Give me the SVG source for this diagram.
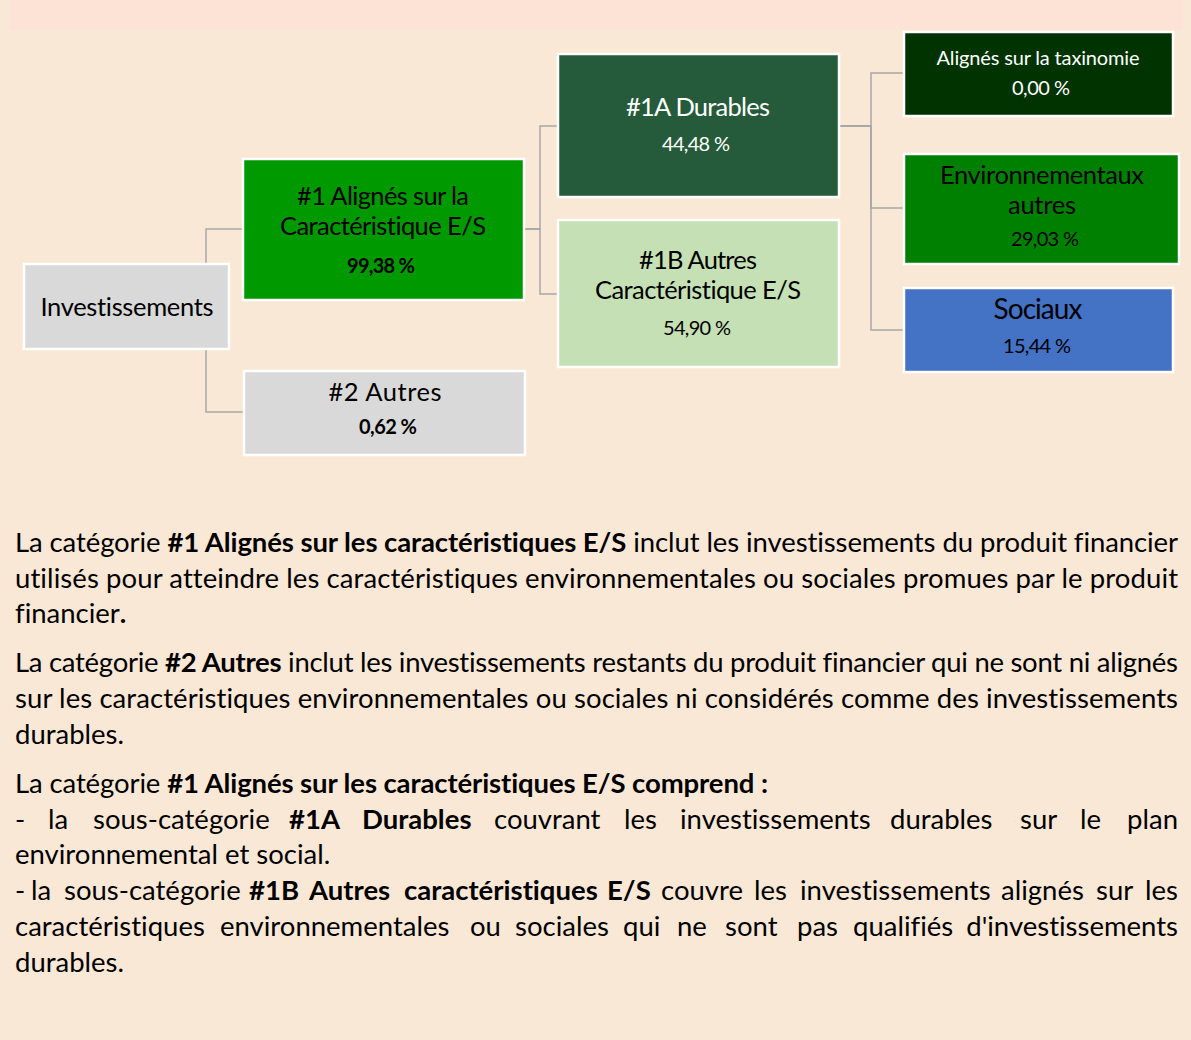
<svg xmlns="http://www.w3.org/2000/svg" width="1191" height="1040" viewBox="0 0 1191 1040">
<style>
.node{stroke:#FFFFFF;stroke-width:2.5}
.conn{fill:none;stroke:#A6A6A6;stroke-width:1.5}
.t{font-family:Lato,"Liberation Sans",sans-serif;text-anchor:middle;fill:#000;font-variant-ligatures:none}
.w{fill:#FFFFFF}
.big{font-size:25.5px}
.pct{font-size:20px}
.b{font-weight:bold}
.p{font-family:Lato,"Liberation Sans",sans-serif;font-size:27.5px;fill:#000;font-variant-ligatures:none}
.e{text-anchor:end}
</style>
<rect x="0" y="0" width="1191" height="1040" fill="#FAE8D7"/>
<rect x="10" y="0" width="1173" height="30" fill="#FDE3D6"/>
<g id="connectors">
<path class="conn" d="M206,263 V229 H242"/>
<path class="conn" d="M206,350 V412 H243"/>
<path class="conn" d="M525,229 H540 V126 H557"/>
<path class="conn" d="M525,229 H540 V294 H557"/>
<path class="conn" d="M840,126 H871 V73 H903"/>
<path class="conn" d="M840,126 H871 V208 H903"/>
<path class="conn" d="M840,126 H871 V330 H903"/>
</g>
<g id="investissements">
<rect class="node" x="24" y="264" width="205" height="85" fill="#D9D9D9"/>
<text class="t big" x="127" y="316" textLength="173">Investissements</text>
</g>
<g id="n1">
<rect class="node" x="243" y="159" width="281" height="141" fill="#009900"/>
<text class="t big" x="383" y="205" textLength="172">#1 Alignés sur la</text>
<text class="t big" x="383" y="235" textLength="206">Caractéristique E/S</text>
<text class="t pct b" x="381" y="273" textLength="68">99,38 %</text>
</g>
<g id="n2">
<rect class="node" x="244" y="371" width="281" height="84" fill="#D9D9D9"/>
<text class="t big" x="385" y="401" textLength="113">#2 Autres</text>
<text class="t pct b" x="388" y="434" textLength="58">0,62 %</text>
</g>
<g id="n1a">
<rect class="node" x="558" y="54" width="281" height="143" fill="#255B3A"/>
<text class="t big w" x="698" y="116" textLength="144">#1A Durables</text>
<text class="t pct w" x="696" y="151" textLength="68">44,48 %</text>
</g>
<g id="n1b">
<rect class="node" x="558" y="220" width="281" height="147" fill="#C5E0B4"/>
<text class="t big" x="698" y="269" textLength="118">#1B Autres</text>
<text class="t big" x="698" y="299" textLength="206">Caractéristique E/S</text>
<text class="t pct" x="697" y="335" textLength="68">54,90 %</text>
</g>
<g id="taxinomie">
<rect class="node" x="904" y="32" width="269" height="84" fill="#003300"/>
<text class="t pct w" x="1038" y="65" textLength="203">Alignés sur la taxinomie</text>
<text class="t pct w" x="1041" y="95" textLength="58">0,00 %</text>
</g>
<g id="environnementaux">
<rect class="node" x="904" y="154" width="275" height="110" fill="#008000"/>
<text class="t big" x="1042" y="184" textLength="204">Environnementaux</text>
<text class="t big" x="1042" y="214" textLength="68">autres</text>
<text class="t pct" x="1045" y="246" textLength="68">29,03 %</text>
</g>
<g id="sociaux">
<rect class="node" x="904" y="288" width="269" height="84" fill="#4472C4"/>
<text class="t" x="1038" y="319" font-size="28" textLength="89">Sociaux</text>
<text class="t pct" x="1037" y="353" textLength="68">15,44 %</text>
</g>
<g id="description">
<text class="p" x="15" y="552" textLength="1163">La catégorie <tspan class="b">#1 Alignés sur les caractéristiques E/S</tspan> inclut les investissements du produit financier</text>
<text class="p" x="15" y="588" textLength="1163">utilisés pour atteindre les caractéristiques environnementales ou sociales promues par le produit</text>
<text class="p" x="15" y="623">financier<tspan class="b">.</tspan></text>
<text class="p" x="15" y="672" textLength="1163">La catégorie <tspan class="b">#2 Autres</tspan> inclut les investissements restants du produit financier qui ne sont ni alignés</text>
<text class="p" x="15" y="708" textLength="1163">sur les caractéristiques environnementales ou sociales ni considérés comme des investissements</text>
<text class="p" x="15" y="744">durables.</text>
<text class="p" x="15" y="793" textLength="753">La catégorie <tspan class="b">#1 Alignés sur les caractéristiques E/S comprend :</tspan></text>
<text class="p" y="829"><tspan x="15">-</tspan><tspan x="48">la</tspan><tspan x="93">sous-catégorie</tspan><tspan x="289" class="b">#1A</tspan><tspan x="362" class="b">Durables</tspan><tspan x="494">couvrant</tspan><tspan x="624">les</tspan><tspan x="680">investissements</tspan><tspan x="890">durables</tspan><tspan x="1020">sur</tspan><tspan x="1080">le</tspan></text>
<text class="p e" x="1178" y="829">plan</text>
<text class="p" x="15" y="864">environnemental et social.</text>
<text class="p" y="900"><tspan x="15">-</tspan><tspan x="31">la</tspan><tspan x="64">sous-catégorie</tspan><tspan x="249" class="b">#1B</tspan><tspan x="309" class="b">Autres</tspan><tspan x="404" class="b">caractéristiques</tspan><tspan x="607" class="b">E/S</tspan><tspan x="661">couvre</tspan><tspan x="754">les</tspan><tspan x="800">investissements</tspan><tspan x="1001">alignés</tspan><tspan x="1096">sur</tspan></text>
<text class="p e" x="1178" y="900">les</text>
<text class="p" y="936"><tspan x="15">caractéristiques</tspan><tspan x="220">environnementales</tspan><tspan x="470">ou</tspan><tspan x="515">sociales</tspan><tspan x="623">qui</tspan><tspan x="677">ne</tspan><tspan x="725">sont</tspan><tspan x="797">pas</tspan><tspan x="853">qualifiés</tspan></text>
<text class="p e" x="1178" y="936">d'investissements</text>
<text class="p" x="15" y="972">durables.</text>
</g>
</svg>
